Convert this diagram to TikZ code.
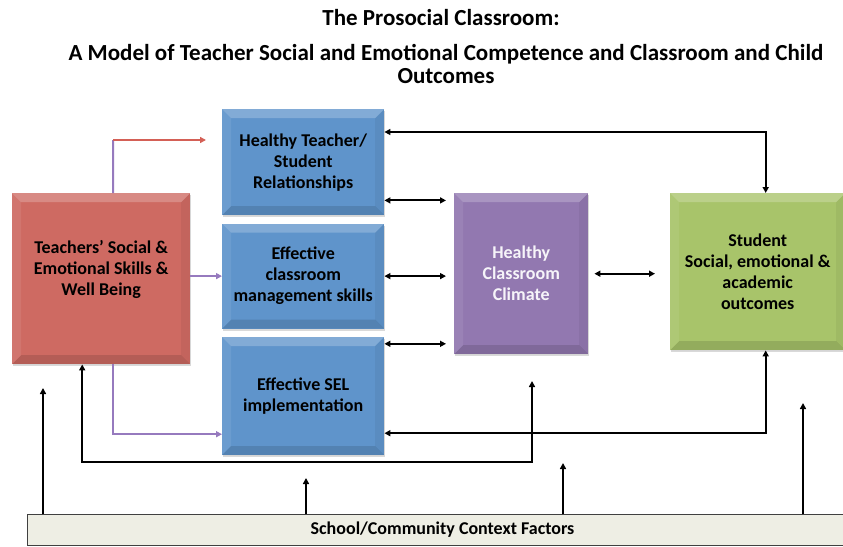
\documentclass[tikz,border=0pt]{standalone}
\usepackage{fontspec}
\setmainfont{Carlito}
\usetikzlibrary{arrows.meta,positioning,shadows}
\definecolor{redbox}{RGB}{206,106,98}
\definecolor{bluebox}{RGB}{95,148,203}
\definecolor{purplebox}{RGB}{146,120,176}
\definecolor{greenbox}{RGB}{168,196,106}
\definecolor{ctxfill}{RGB}{238,238,228}
\definecolor{purpleline}{RGB}{150,122,190}
\definecolor{redline}{RGB}{212,96,86}
\newcommand{\boxfont}{\fontsize{18}{21}\selectfont\bfseries}
\newcommand{\titlefont}{\fontsize{23}{23}\selectfont\bfseries}

\tikzset{
  bevel/.style={path picture={
    \fill[white,opacity=.22] (path picture bounding box.north west) -- (path picture bounding box.north east)
      -- ([shift={(-9pt,-9pt)}]path picture bounding box.north east) -- ([shift={(9pt,-9pt)}]path picture bounding box.north west) -- cycle;
    \fill[white,opacity=.08] (path picture bounding box.north west) -- ([shift={(9pt,-9pt)}]path picture bounding box.north west)
      -- ([shift={(9pt,9pt)}]path picture bounding box.south west) -- (path picture bounding box.south west) -- cycle;
    \fill[black,opacity=.05] (path picture bounding box.north east) -- ([shift={(-9pt,-9pt)}]path picture bounding box.north east)
      -- ([shift={(-9pt,9pt)}]path picture bounding box.south east) -- (path picture bounding box.south east) -- cycle;
    \fill[black,opacity=.12] (path picture bounding box.south west) -- ([shift={(9pt,9pt)}]path picture bounding box.south west)
      -- ([shift={(-9pt,9pt)}]path picture bounding box.south east) -- (path picture bounding box.south east) -- cycle;
  }},
  box/.style={rectangle, anchor=north west, align=center, inner sep=0pt, font=\boxfont,
    drop shadow={shadow xshift=1pt, shadow yshift=-2pt, opacity=.3}, bevel},
  link/.style={line width=2pt, {Triangle[length=6pt,width=6pt]}-{Triangle[length=6pt,width=6pt]}},
  uplink/.style={line width=2pt, -{Triangle[length=6pt,width=6pt]}},
  plink/.style={line width=2pt, purpleline},
}

\begin{document}
\begin{tikzpicture}[x=1pt, y=-1pt, node distance=8pt]
  \useasboundingbox (0,0) rectangle (843,546);

  % titles
  \node[font=\titlefont] (title1) at (441,18) {The Prosocial Classroom:};
  \node[font=\titlefont, align=center] (title2) at (446,64)
    {A Model of Teacher Social and Emotional Competence and Classroom and Child\\Outcomes};

  % boxes
  \node[box, fill=redbox, minimum width=178pt, minimum height=171pt] (teacher) at (12,193) {};
  \node[font=\boxfont, align=center] (teachertext) at ([yshift=9pt]teacher.center)
    {Teachers' Social \&\\Emotional Skills \&\\Well Being};
  \node[box, fill=bluebox, minimum width=162pt, minimum height=106pt] (rel) at (222,109)
    {Healthy Teacher/\\Student\\Relationships};
  \node[box, fill=bluebox, minimum width=162pt, minimum height=105pt, below=of rel] (mgmt)
    {Effective\\classroom\\management skills};
  \node[box, fill=bluebox, minimum width=162pt, minimum height=118pt, below=of mgmt] (sel)
    {Effective SEL\\implementation};
  \node[box, fill=purplebox, text=white!92!purplebox, minimum width=134pt, minimum height=161pt] (climate) at (454,193)
    {Healthy\\Classroom\\Climate};
  \node[box, fill=greenbox, minimum width=175pt, minimum height=157pt] (outcome) at (670,193)
    {Student\\Social, emotional \&\\academic\\outcomes};
  \node[rectangle, anchor=north west, fill=ctxfill, draw=black!75, line width=1pt,
        minimum width=818pt, minimum height=31pt, font=\fontsize{18}{18}\selectfont\bfseries] (ctx) at (27,514)
    {\hspace*{12pt}School/Community Context Factors};

  % teacher to the three blue boxes
  \coordinate (redcorner) at (113,140);
  \coordinate (redtip) at (206,140);
  \draw[plink] ([xshift=12pt]teacher.north) -- (redcorner);
  \draw[line width=2pt, redline, -{Triangle[length=6pt,width=6pt]}] (redcorner) -- (redtip);
  \draw[plink, -{Triangle[length=6pt,width=6pt]}] (mgmt.west -| teacher.east) -- (mgmt.west);
  \draw[plink, -{Triangle[length=6pt,width=6pt]}] ([xshift=12pt]teacher.south) |- ([yshift=21pt]sel.south west);

  % blue boxes and climate
  \draw[link, shorten >=8pt] ([yshift=15pt]rel.south east) -- ([yshift=15pt]rel.south east -| climate.west);
  \draw[link, shorten >=8pt] (mgmt.east) -- (mgmt.east -| climate.west);
  \draw[link, shorten >=8pt] ([yshift=-7pt]sel.north east) -- ([yshift=-7pt]sel.north east -| climate.west);
  \draw[link, shorten <=6pt, shorten >=15pt] (climate.east) -- (climate.east -| outcome.west);

  % feedback to outcomes
  \draw[link] ([yshift=-23pt]rel.north east) -| ([xshift=8pt]outcome.north);
  \draw[link] ([yshift=22pt]sel.south east) -| ([xshift=8pt]outcome.south);

  % feedback to teacher
  \coordinate (fbcorner) at (532,462);
  \coordinate (fbtip) at (532,381);
  \draw[link] ([xshift=-19pt]teacher.south) |- (fbcorner) -- (fbtip);

  % context factors
  \foreach \x/\t [count=\i] in {43/388, 306/478, 563/463, 803/403} {
    \coordinate (ctx\i) at (\x,\t);
    \draw[uplink] (ctx\i |- ctx.north) -- (ctx\i);
  }
\end{tikzpicture}
\end{document}
